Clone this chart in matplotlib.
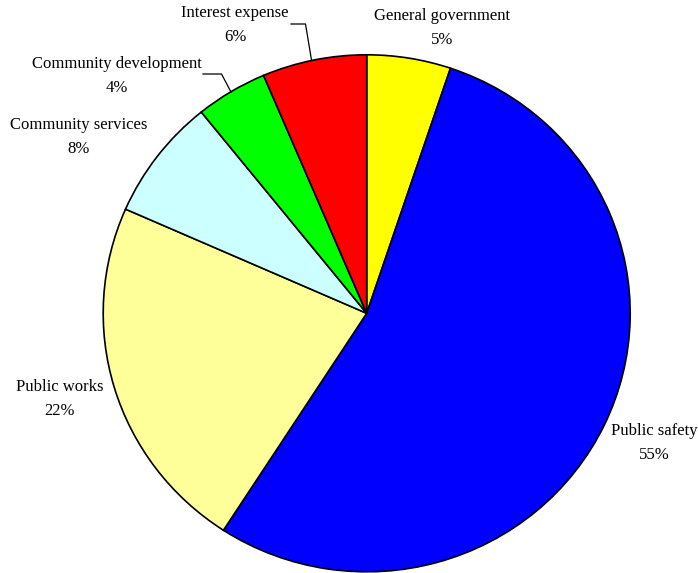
import matplotlib
matplotlib.use('Agg')
import matplotlib.pyplot as plt
from matplotlib.lines import Line2D

categories = ['General government', 'Public safety', 'Public works',
              'Community services', 'Community development', 'Interest expense']
values = [5.15, 54.0, 22.45, 7.6, 4.4, 6.4]
pct_labels = ['5%', '55%', '22%', '8%', '4%', '6%']
colors = ['#FFFF00', '#0000FF', '#FFFF99', '#CCFFFF', '#00FF00', '#FF0000']

W, H = 698, 573


def px(x, y):
    # pixel position (top-left origin) -> figure fraction
    return x / W, 1 - y / H


plt.rcParams['font.family'] = ['Liberation Serif', 'DejaVu Serif']

fig = plt.figure(figsize=(W / 100, H / 100), dpi=100)
cx, cy, rx, ry = 366.7, 313.3, 263.5, 258.5
ax = fig.add_axes([(cx - rx) / W, (H - cy - ry) / H, 2 * rx / W, 2 * ry / H])

ax.pie(values, colors=colors, startangle=90, counterclock=False, radius=1,
       wedgeprops=dict(edgecolor='black', linewidth=1.2))
ax.set_aspect('auto')
ax.set_xlim(-1, 1)
ax.set_ylim(-1, 1)
ax.axis('off')

# label positions in pixels (centre of the two-line block)
label_pos = [(442, 28), (654, 443), (59.5, 399), (79, 137), (117, 76), (235, 25)]
for name, pct, (x, y) in zip(categories, pct_labels, label_pos):
    fx, fy = px(x, y)
    fig.text(fx, fy, name + '\n' + pct, ha='center', va='center',
             fontsize=12, linespacing=1.6, color='black')

# leader lines
leaders = [
    [(291, 24), (305.5, 24), (311.5, 60)],
    [(203, 74), (221.5, 74), (231, 92)],
]
for pts in leaders:
    xs = [px(p[0], p[1])[0] for p in pts]
    ys = [px(p[0], p[1])[1] for p in pts]
    fig.add_artist(Line2D(xs, ys, color='black', linewidth=0.9,
                          transform=fig.transFigure))

fig.savefig('out.png', dpi=100, facecolor='white')
